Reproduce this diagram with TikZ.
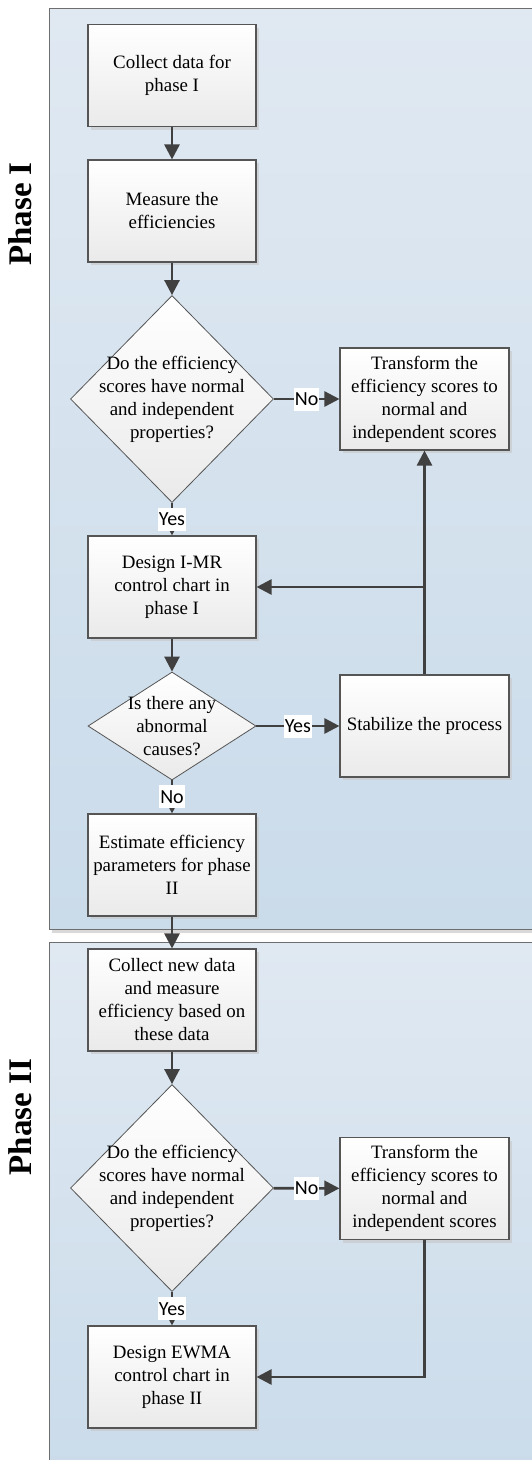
\documentclass[tikz,border=0pt]{standalone}
\usepackage{fontspec}
\setmainfont{Liberation Serif}
\newfontfamily\labfont{Carlito}
\usetikzlibrary{arrows.meta,shapes.geometric,shadows}
\definecolor{paneltop}{RGB}{224,233,242}
\definecolor{panelbot}{RGB}{202,219,234}
\definecolor{arrcol}{RGB}{64,64,64}
\definecolor{boxline}{RGB}{85,85,85}
\definecolor{panelline}{RGB}{110,110,110}
\definecolor{boxbot}{RGB}{234,234,234}
\begin{document}
\begin{tikzpicture}[x=1pt,y=-1pt,
  procbox/.style={draw=boxline, line width=1.1pt, top color=white, bottom color=boxbot,
    minimum width=168pt, minimum height=102pt, align=center, inner sep=2pt,
    font=\fontsize{18.9}{23}\selectfont,
    drop shadow={shadow xshift=3pt,shadow yshift=-3pt,fill=gray!45,opacity=0.6}},
  rbox/.style={procbox, minimum width=169pt},
  decbox/.style={diamond, draw=boxline, line width=0.8pt, top color=white, bottom color=boxbot,
    inner sep=0pt},
  dtext/.style={align=center, inner sep=0pt, font=\fontsize{18.9}{23}\selectfont},
  arr/.style={draw=arrcol, line width=2.6pt, -{Triangle[length=15pt,width=15pt]}},
  yn/.style={fill=white, inner xsep=1pt, inner ysep=0pt, minimum height=23pt,
    font=\labfont\fontsize{20}{20}\selectfont, text=black},
  phase/.style={rotate=90, font=\bfseries\fontsize{33}{33}\selectfont}
]
\useasboundingbox (0,0) rectangle (532,1460);
\clip (0,0) rectangle (532,1460);
% panels
\fill[gray!30] (52,11) rectangle (548,933);
\draw[panelline, line width=1pt, top color=paneltop, bottom color=panelbot] (49,8) rectangle (545,929);
\fill[gray!30] (52,945) rectangle (548,1480);
\draw[panelline, line width=1pt, top color=paneltop, bottom color=panelbot] (49,942) rectangle (545,1475);
\node[phase] (p1) at (20,214) {Phase I};
\node[phase] (p2) at (20,1117) {Phase II};
% phase I nodes
\node[procbox] (b1) at (172,75.5) {Collect data for\\phase I};
\node[procbox] (b2) at (172,211) {Measure the\\efficiencies};
\node[decbox, minimum width=203pt, minimum height=207pt,
  label={[dtext]center:{Do the efficiency\\scores have normal\\and independent\\properties?}}] (d1) at (172,399) {};
\node[rbox] (t1) at (424.5,399) {Transform the\\efficiency scores to\\normal and\\independent scores};
\node[procbox] (b3) at (172,587) {Design I-MR\\control chart in\\phase I};
\node[decbox, minimum width=168pt, minimum height=108pt,
  label={[dtext]center:{Is there any\\abnormal\\causes?}}] (d2) at (172,726) {};
\node[rbox] (s1) at (424.5,726) {Stabilize the process};
\node[procbox] (b4) at (172,865) {Estimate efficiency\\parameters for phase\\II};
% phase II nodes
\node[procbox] (b5) at (172,1000) {Collect new data\\and measure\\efficiency based on\\these data};
\node[decbox, minimum width=203pt, minimum height=207pt,
  label={[dtext]center:{Do the efficiency\\scores have normal\\and independent\\properties?}}] (d3) at (172,1188) {};
\node[rbox] (t2) at (424.5,1188.5) {Transform the\\efficiency scores to\\normal and\\independent scores};
\node[procbox] (b6) at (172,1377) {Design EWMA\\control chart in\\phase II};
% connectors
\draw[arr] (b1) -- (b2);
\draw[arr] (b2) -- (d1);
\draw[arr] (d1) -- node[yn] {No} (t1);
\draw[arr] (d1) -- node[yn] {Yes} (b3);
\draw[arr] (b3) -- (d2);
\draw[arr] (d2) -- node[yn] {Yes} (s1);
\draw[arr] (d2) -- node[yn] {No} (b4);
\draw[arr] (s1) -- (t1);
\coordinate (j1) at (s1.north |- b3.east);
\draw[arr] (j1) -- (b3.east);
\draw[arr] (b4) -- (b5);
\draw[arr] (b5) -- (d3);
\draw[arr] (d3) -- node[yn] {No} (t2);
\draw[arr] (d3) -- node[yn] {Yes} (b6);
\draw[arr] (t2.south) |- (b6.east);
\end{tikzpicture}
\end{document}
